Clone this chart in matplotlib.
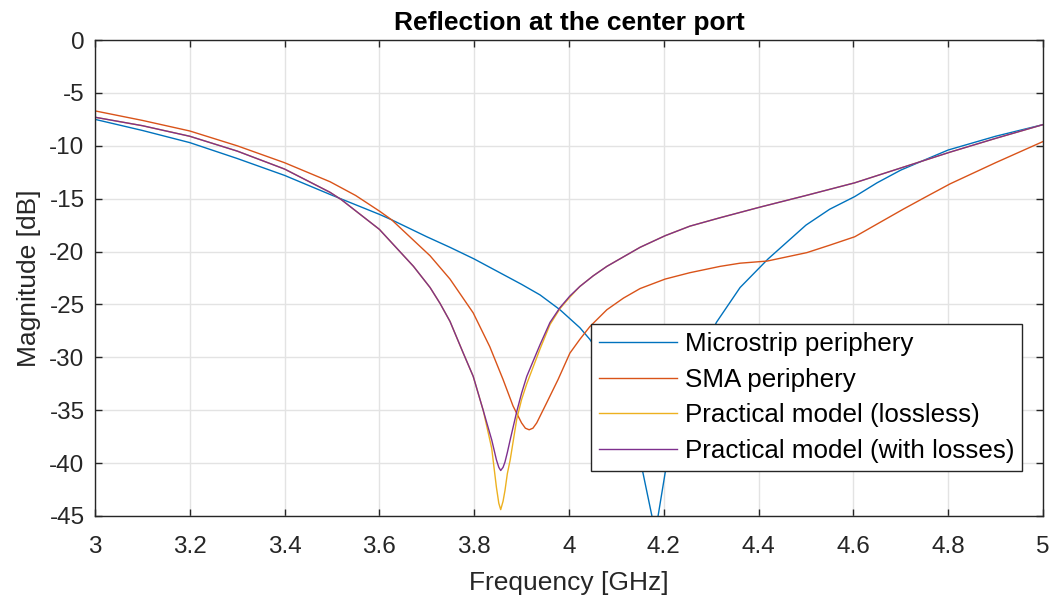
import matplotlib
matplotlib.use('Agg')
import matplotlib.pyplot as plt

plt.rcParams['font.family'] = ['Liberation Sans', 'DejaVu Sans']
plt.rcParams['axes.unicode_minus'] = False

# Microstrip periphery
f_micro = [3.00, 3.10, 3.20, 3.30, 3.40, 3.496, 3.601, 3.626, 3.70, 3.749, 3.80, 3.85,
           3.90, 3.939, 3.981, 4.023, 4.044, 4.10, 4.13, 4.156, 4.175, 4.181, 4.188,
           4.203, 4.25, 4.28, 4.311, 4.361, 4.42, 4.50, 4.55, 4.603, 4.65, 4.70, 4.747,
           4.80, 4.90, 5.00]
s_micro = [-7.5, -8.55, -9.7, -11.2, -12.8, -14.6, -16.5, -17.0, -18.6, -19.6, -20.7, -21.9,
           -23.1, -24.1, -25.5, -27.2, -28.3, -32.0, -35.5, -40.9, -45.0, -47.0, -45.0,
           -40.9, -33.5, -29.8, -26.7, -23.4, -20.7, -17.5, -16.0, -14.8, -13.5, -12.3, -11.4,
           -10.4, -9.1, -8.0]

# SMA periphery
f_sma = [3.00, 3.10, 3.20, 3.30, 3.40, 3.496, 3.55, 3.601, 3.626, 3.707, 3.749, 3.798,
         3.833, 3.861, 3.882, 3.900, 3.908, 3.916, 3.924, 3.932, 3.953, 3.977, 4.002,
         4.023, 4.044, 4.080, 4.115, 4.150, 4.203, 4.255, 4.319, 4.361, 4.418, 4.502,
         4.55, 4.603, 4.65, 4.705, 4.75, 4.804, 4.90, 5.00]
s_sma = [-6.7, -7.6, -8.6, -10.0, -11.6, -13.4, -14.7, -16.2, -17.0, -20.4, -22.6, -25.8,
         -29.0, -32.1, -34.6, -36.2, -36.7, -36.85, -36.7, -36.2, -34.3, -32.1, -29.6,
         -28.3, -27.1, -25.5, -24.4, -23.5, -22.6, -22.0, -21.4, -21.1, -20.9, -20.1,
         -19.4, -18.6, -17.4, -16.0, -14.9, -13.6, -11.6, -9.6]

# Practical model, lossless and with losses (same frequency points)
f_model = [3.00, 3.10, 3.20, 3.30, 3.40, 3.496, 3.52, 3.60, 3.672, 3.707, 3.728, 3.749,
           3.777, 3.798, 3.819, 3.837, 3.847, 3.852, 3.856, 3.861, 3.865, 3.870, 3.876,
           3.890, 3.900, 3.911, 3.939, 3.960, 3.981, 4.002, 4.023, 4.051, 4.080, 4.115,
           4.150, 4.203, 4.255, 4.319, 4.361, 4.403, 4.50, 4.603, 4.70, 4.804, 4.90, 5.00]
s_lossless = [-7.3, -8.1, -9.1, -10.5, -12.2, -14.4, -15.1, -17.9, -21.4, -23.4, -24.9, -26.6,
              -29.6, -31.8, -35.0, -38.6, -42.3, -43.8, -44.4, -43.6, -42.6, -41.0, -39.7,
              -35.8, -34.0, -32.5, -29.2, -26.9, -25.4, -24.3, -23.3, -22.3, -21.4, -20.5,
              -19.6, -18.5, -17.6, -16.8, -16.3, -15.8, -14.7, -13.5, -12.1, -10.6, -9.3, -8.0]
s_lossy = [-7.3, -8.1, -9.1, -10.5, -12.2, -14.4, -15.1, -17.9, -21.4, -23.4, -24.9, -26.6,
           -29.6, -31.8, -35.0, -37.8, -39.7, -40.4, -40.7, -40.4, -39.9, -39.0, -37.8,
           -35.1, -33.4, -31.8, -28.8, -26.7, -25.3, -24.2, -23.3, -22.3, -21.4, -20.5,
           -19.6, -18.5, -17.6, -16.8, -16.3, -15.8, -14.7, -13.5, -12.1, -10.6, -9.3, -8.0]

labels = ['Microstrip periphery', 'SMA periphery',
          'Practical model (lossless)', 'Practical model (with losses)']
colors = ['#0072BD', '#D95319', '#EDB120', '#7E2F8E']

fig = plt.figure(figsize=(10.55, 5.99), dpi=100)
ax = fig.add_axes([0.090, 0.1386, 0.8986, 0.7946])

ax.plot(f_micro, s_micro, color=colors[0], lw=1.0, label=labels[0])
ax.plot(f_sma, s_sma, color=colors[1], lw=1.0, label=labels[1])
ax.plot(f_model, s_lossless, color=colors[2], lw=1.0, label=labels[2])
ax.plot(f_model, s_lossy, color=colors[3], lw=1.0, label=labels[3])

ax.set_xlim(3, 5)
ax.set_ylim(-45, 0)
ax.set_xticks([3, 3.2, 3.4, 3.6, 3.8, 4, 4.2, 4.4, 4.6, 4.8, 5])
ax.set_xticklabels(['3', '3.2', '3.4', '3.6', '3.8', '4', '4.2', '4.4', '4.6', '4.8', '5'])
ax.set_yticks(range(-45, 1, 5))
ax.grid(True, color='#e3e3e3', lw=1.0)
ax.set_axisbelow(True)
ax.tick_params(direction='in', top=True, right=True, length=5, width=1,
               colors='#262626', labelsize=17.5)
ax.tick_params(axis='x', pad=14.5)
ax.tick_params(axis='y', pad=7.5)
for s in ax.spines.values():
    s.set_color('#262626')
    s.set_linewidth(1.0)

ax.set_xlabel('Frequency [GHz]', fontsize=19, color='#262626', labelpad=9)
ax.set_ylabel('Magnitude [dB]', fontsize=19, color='#262626', labelpad=6)
ax.set_title('Reflection at the center port', fontsize=19, fontweight='bold', pad=7)

leg = ax.legend(loc='lower right', bbox_to_anchor=(0.9778, 0.0947), fontsize=18.7,
                frameon=True, fancybox=False, framealpha=1, edgecolor='#262626',
                handlelength=3.0, handletextpad=0.3, borderpad=0.3, labelspacing=0.45,
                borderaxespad=0)
leg.get_frame().set_linewidth(1.0)

fig.savefig('out.png', dpi=100)
